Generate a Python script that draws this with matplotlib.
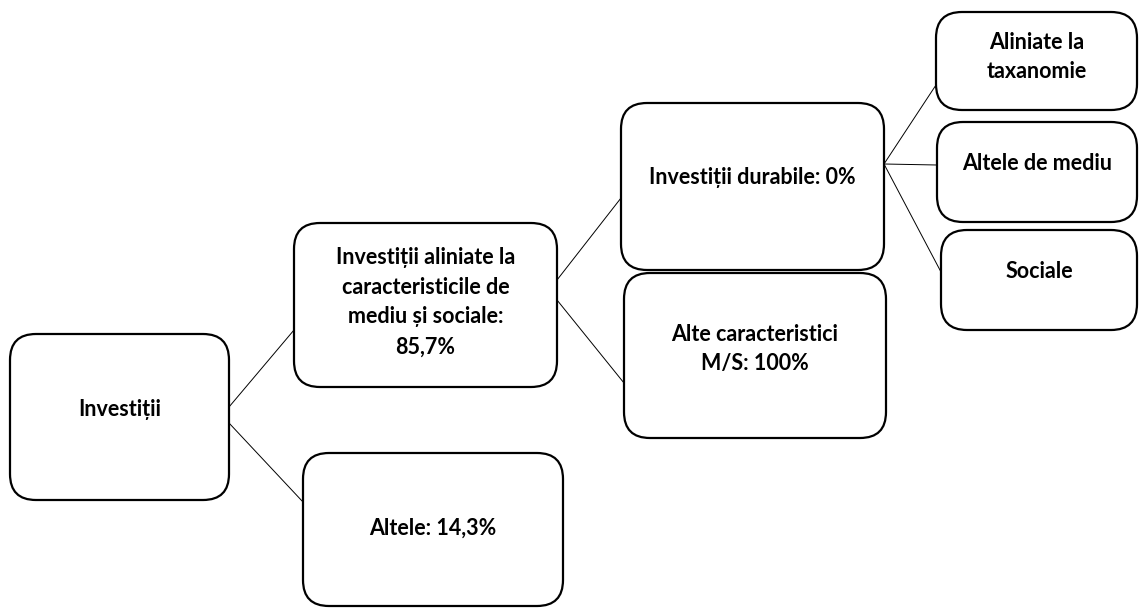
import matplotlib.pyplot as plt
from matplotlib.patches import FancyBboxPatch

# Etichetele nodurilor
labels = [
    "Investiții",
    "Investiții aliniate la\ncaracteristicile de\nmediu și sociale:\n85,7%",
    "Altele: 14,3%",
    "Investiții durabile: 0%",
    "Alte caracteristici\nM/S: 100%",
    "Aliniate la\ntaxanomie",
    "Altele de mediu",
    "Sociale",
]

# Legaturi parinte -> copil
edges = [(0, 1), (0, 2), (1, 3), (1, 4), (3, 5), (3, 6), (3, 7)]

# Pozitii cutii (x0, y0, x1, y1) in pixeli, y de sus in jos
boxes = [
    (10, 334, 229, 500),
    (294, 223, 557, 387),
    (303, 453, 563, 606),
    (621, 103, 884, 270),
    (624, 273, 886, 438),
    (936, 12, 1137, 110),
    (937, 122, 1137, 222),
    (941, 230, 1137, 330),
]
# pozitia verticala a textului
text_y = [410, 302, 528, 178, 349, 57, 163, 272]
# capetele liniilor (y la parinte, y la copil)
edge_y = [(407, 330), (423, 502), (280, 198), (300, 383), (164, 85), (164, 165), (164, 272)]

fig = plt.figure(figsize=(11.39, 6.11), dpi=100)
ax = fig.add_axes([0, 0, 1, 1])
ax.set_xlim(0, 1139)
ax.set_ylim(611, 0)
ax.axis("off")

for (x0, y0, x1, y1), lab, ty in zip(boxes, labels, text_y):
    ax.add_patch(FancyBboxPatch((x0, y0), x1 - x0, y1 - y0,
                                boxstyle="round,pad=0,rounding_size=26",
                                facecolor="white", edgecolor="black", linewidth=1.6))
    ax.text((x0 + x1) / 2, ty, lab, ha="center", va="center", fontsize=15.5,
            fontweight="bold", family=["Lato", "DejaVu Sans"], linespacing=1.52)

for (p, c), (yp, yc) in zip(edges, edge_y):
    ax.plot([boxes[p][2], boxes[c][0]], [yp, yc], color="black", linewidth=0.7)

fig.savefig("out.png", dpi=100)
